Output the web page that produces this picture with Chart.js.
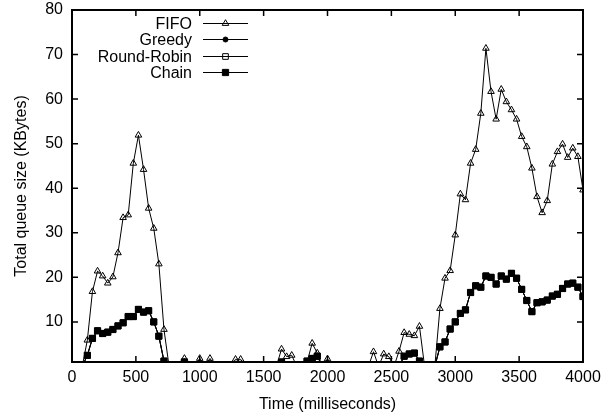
<!DOCTYPE html>
<html><head><meta charset="utf-8">
<script src="https://cdn.jsdelivr.net/npm/chart.js@4/dist/chart.umd.min.js"></script>
<style>html,body{margin:0;padding:0;background:#fff}canvas{display:block}</style>
</head><body>
<canvas id="c" width="615" height="418"></canvas>
<script>
const times = [0,40,80,120,160,200,240,280,320,360,400,440,480,520,560,600,640,680,720,760,800,840,880,920,960,1000,1040,1080,1120,1160,1200,1240,1280,1320,1360,1400,1440,1480,1520,1560,1600,1640,1680,1720,1760,1800,1840,1880,1920,1960,2000,2040,2080,2120,2160,2200,2240,2280,2320,2360,2400,2440,2480,2520,2560,2600,2640,2680,2720,2760,2800,2840,2880,2920,2960,3000,3040,3080,3120,3160,3200,3240,3280,3320,3360,3400,3440,3480,3520,3560,3600,3640,3680,3720,3760,3800,3840,3880,3920,3960,4000];
const fifo = [0,0,0,5.9,16.8,21.4,20.3,18.7,20.1,25.5,33.4,34.0,45.6,51.9,44.2,35.5,31.0,23.0,8.3,0,0,0,1.8,0,0,1.8,0,1.8,0,0,0,0,1.6,1.6,0,0,0,0,0,0,0,3.9,2.2,2.5,0,0,1.0,5.2,3.0,0,1.7,0,0,0,0,0,0,0,0,3.3,0,2.8,2.2,0,3.4,7.6,7.2,6.9,9.0,0,0,0,13.0,19.8,21.5,29.5,38.7,37.4,45.6,48.7,56.8,71.4,61.7,55.5,62.2,59.4,57.6,55.5,51.6,49.3,44.5,38.1,34.5,37.2,45.4,48.2,49.9,46.9,49.0,47.1,39.6];
const greedy = [0,0,0,2.5,6.3,8.0,7.4,7.7,8.3,9.1,9.8,11.2,11.2,12.8,12.2,12.5,10.0,6.8,1.2,0,0,0,1.0,0,0,0,0,0,0,0,0,0,0,0,0,0,0,0,0,0,0,1.0,0,0,0,0,1.2,1.8,2.3,0,0,0,0,0,0,0,0,0,0,0,0,0,0,0,0,2.3,2.8,3.0,1.2,0,0,0,4.4,5.5,8.4,10.0,11.9,12.7,16.6,18.1,17.8,20.3,20.0,18.5,20.3,19.6,20.9,19.8,17.3,14.8,12.3,14.3,14.5,14.9,15.8,16.2,17.5,18.5,18.7,17.8,15.7];
const roundRobin = [0,0,0,2.5,6.3,8.0,7.4,7.7,8.3,9.1,9.8,11.2,11.2,12.8,12.2,12.5,10.0,6.8,1.2,0,0,0,1.0,0,0,0,0,0,0,0,0,0,0,0,0,0,0,0,0,0,0,1.0,0,0,0,0,1.2,1.8,2.3,0,0,0,0,0,0,0,0,0,0,0,0,0,0,0,0,2.3,2.8,3.0,1.2,0,0,0,4.4,5.5,8.4,10.0,11.9,12.7,16.6,18.1,17.8,20.3,20.0,18.5,20.3,19.6,20.9,19.8,17.3,14.8,12.3,14.3,14.5,14.9,15.8,16.2,17.5,18.5,18.7,17.8,15.7];
const chain = [0,0,0,2.5,6.3,8.0,7.4,7.7,8.3,9.1,9.8,11.2,11.2,12.8,12.2,12.5,10.0,6.8,1.2,0,0,0,1.0,0,0,0,0,0,0,0,0,0,0,0,0,0,0,0,0,0,0,1.0,0,0,0,0,1.2,1.8,2.3,0,0,0,0,0,0,0,0,0,0,0,0,0,0,0,0,2.3,2.8,3.0,1.2,0,0,0,4.4,5.5,8.4,10.0,11.9,12.7,16.6,18.1,17.8,20.3,20.0,18.5,20.3,19.6,20.9,19.8,17.3,14.8,12.3,14.3,14.5,14.9,15.8,16.2,17.5,18.5,18.7,17.8,15.7];
const xTicks = [0,500,1000,1500,2000,2500,3000,3500,4000];
const yTicks = [10,20,30,40,50,60,70,80];
const seriesNames = ['FIFO','Greedy','Round-Robin','Chain'];
const xTitle = 'Time (milliseconds)';
const yTitle = 'Total queue size (KBytes)';

const FONT = "'Liberation Sans', Arial, Helvetica, sans-serif";
Chart.defaults.font.family = FONT;
Chart.defaults.font.size = 16;
Chart.defaults.color = '#000';

function pts(vals){ return times.map((t,i)=>({x:t, y:vals[i]})); }
function rad(r){ return ctx => (ctx.raw && ctx.raw.y >= 0.5) ? r : 0; }

const styles = [
  {pointStyle:'triangle', radius:3.8, bg:'rgba(255,255,255,0)', order:3},
  {pointStyle:'circle', radius:2.5, bg:'#000', order:2},
  {pointStyle:'rect', radius:4, bg:'rgba(255,255,255,0)', order:1},
  {pointStyle:'rect', radius:4.4, bg:'#000', order:0}
];
const seriesVals = [fifo, greedy, roundRobin, chain];

const datasets = seriesNames.map((name,i)=>({
  label: name,
  data: pts(seriesVals[i]),
  borderColor:'#000',
  borderWidth:1,
  backgroundColor: styles[i].bg,
  pointStyle: styles[i].pointStyle,
  pointRadius: rad(styles[i].radius),
  pointBorderColor:'#000',
  pointBackgroundColor: styles[i].bg,
  pointBorderWidth:1,
  pointHoverRadius:0,
  tension:0,
  fill:false,
  order: styles[i].order
}));

const framePlugin = {
  id:'frame',
  afterDraw(chart){
    const c = chart.ctx, a = chart.chartArea;
    const x = chart.scales.x, y = chart.scales.y;
    c.save();
    c.strokeStyle = '#000';
    c.lineWidth = 2;
    c.strokeRect(a.left, a.top, a.right - a.left, a.bottom - a.top);
    c.lineWidth = 1.5;
    c.beginPath();
    const tl = 6;
    for (const v of xTicks) {
      const px = x.getPixelForValue(v);
      c.moveTo(px, a.bottom); c.lineTo(px, a.bottom - tl);
      c.moveTo(px, a.top); c.lineTo(px, a.top + tl);
    }
    for (const v of yTicks) {
      const py = y.getPixelForValue(v);
      c.moveTo(a.left, py); c.lineTo(a.left + tl, py);
      c.moveTo(a.right, py); c.lineTo(a.right - tl, py);
    }
    c.stroke();
    c.font = '16px ' + FONT;
    c.textAlign = 'right';
    c.textBaseline = 'middle';
    c.lineWidth = 1;
    const rows = [22.7, 39.3, 55.5, 72];
    seriesNames.forEach((name,i)=>{
      const yy = Math.round(rows[i]) + 0.5;
      c.fillStyle = '#000';
      c.fillText(name, 192, yy + 1);
      c.fillRect(203, Math.round(rows[i]), 45, 1);
      c.fillStyle = styles[i].bg;
      c.strokeStyle = '#000';
      Chart.helpers.drawPoint(c, {pointStyle: styles[i].pointStyle, radius: styles[i].radius, rotation:0, borderWidth:1}, 225.5, yy);
    });
    c.restore();
  }
};

new Chart(document.getElementById('c'), {
  type:'line',
  data:{datasets},
  options:{
    responsive:false,
    animation:false,
    devicePixelRatio:1,
    layout:{padding:{top:0,right:32,left:0,bottom:0}},
    plugins:{legend:{display:false}, tooltip:{enabled:false}},
    scales:{
      x:{
        type:'linear', min:0, max:4000,
        afterBuildTicks: s => { s.ticks = xTicks.map(v=>({value:v})); },
        afterFit: s => { s.height = 56; s.paddingLeft = 0; s.paddingRight = 0; },
        ticks:{callback: v => String(v), maxRotation:0, autoSkip:false, padding:6, color:'#000'},
        grid:{display:false, drawTicks:false},
        border:{display:false},
        title:{display:true, text:xTitle, color:'#000', padding:{top:0,bottom:4}}
      },
      y:{
        type:'linear', min:1, max:80,
        afterBuildTicks: s => { s.ticks = yTicks.map(v=>({value:v})); },
        afterFit: s => { s.width = 72; s.paddingTop = 10; s.paddingBottom = 0; },
        ticks:{callback: v => String(v), padding:9, color:'#000'},
        grid:{display:false, drawTicks:false},
        border:{display:false},
        title:{display:true, text:yTitle, color:'#000', padding:{top:12,bottom:0}}
      }
    }
  },
  plugins:[framePlugin]
});
</script>
</body></html>
